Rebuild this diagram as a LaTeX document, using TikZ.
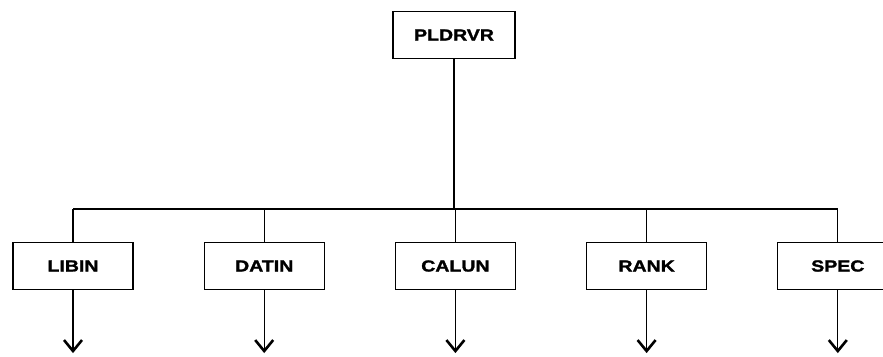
\documentclass[tikz,border=0pt]{standalone}
\usepackage{fontspec}
\newfontfamily\chartfont[FakeStretch=1.22, FakeBold=1.6]{Liberation Sans}
\usetikzlibrary{positioning,arrows.meta}

\begin{document}
\begin{tikzpicture}[x=1pt, y=-1pt,
		modbox/.style={draw, line width=1.2pt, minimum width=120pt, minimum height=47pt, inner sep=0pt,
			font=\chartfont\bfseries\fontsize{16}{18}\selectfont},
		link/.style={line width=1.1pt},
		flow/.style={line width=1.3pt, -{Straight Barb[length=11pt, width=18pt, line width=2.6pt]}}]
		\useasboundingbox (0,0) rectangle (883,356);

		\node[modbox, minimum width=122pt] (PLDRVR) at (454,35) {PLDRVR};
		\node[modbox] (LIBIN) at (73,266) {LIBIN};
		\node[modbox, right=70pt of LIBIN] (DATIN) {DATIN};
		\node[modbox, right=70pt of DATIN] (CALUN) {CALUN};
		\node[modbox, right=70pt of CALUN] (RANK) {RANK};
		\node[modbox, right=70pt of RANK] (SPEC) {SPEC};
		\coordinate (Bus) at (454,209);

		\draw[link] (PLDRVR) -- (Bus);
		\draw[link] (LIBIN.north |- Bus) -- (SPEC.north |- Bus);
		\foreach \m in {LIBIN,DATIN,CALUN,RANK,SPEC} {
			\draw[link] (\m.north |- Bus) -- (\m.north);
			\coordinate[below=63pt of \m.south] (\m-out);
			\draw[flow] (\m.south) -- (\m-out);
		}
	\end{tikzpicture}
\end{document}
